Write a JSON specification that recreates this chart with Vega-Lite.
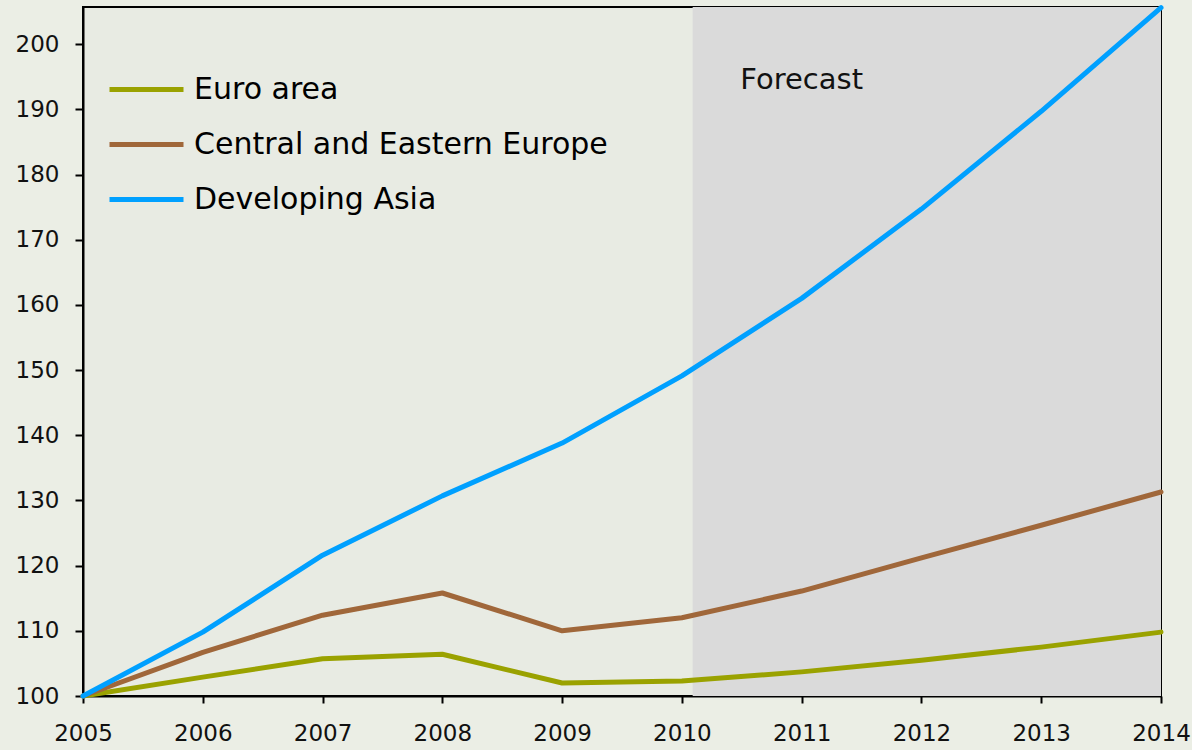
{
  "$schema": "https://vega.github.io/schema/vega-lite/v6.json",
  "width": 1078,
  "height": 689,
  "autosize": {"type": "none"},
  "padding": {"left": 83, "top": 7, "right": 31, "bottom": 54},
  "background": "#ebeee5",
  "config": {
    "font": "DejaVu Sans",
    "view": {"stroke": "#000000", "strokeWidth": 2, "fill": "#e8ebe3"},
    "axis": {
      "grid": false,
      "domainColor": "#000000",
      "domainWidth": 2,
      "tickColor": "#000000",
      "tickWidth": 2,
      "labelColor": "#111111",
      "labelFontSize": 23,
      "labelFont": "DejaVu Sans",
      "title": null
    }
  },
  "datasets": {
    "series": [
      {"year": 2005, "region": "Euro area", "value": 100},
      {"year": 2006, "region": "Euro area", "value": 102.9},
      {"year": 2007, "region": "Euro area", "value": 105.7},
      {"year": 2008, "region": "Euro area", "value": 106.4},
      {"year": 2009, "region": "Euro area", "value": 102.0},
      {"year": 2010, "region": "Euro area", "value": 102.3},
      {"year": 2011, "region": "Euro area", "value": 103.7},
      {"year": 2012, "region": "Euro area", "value": 105.5},
      {"year": 2013, "region": "Euro area", "value": 107.5},
      {"year": 2014, "region": "Euro area", "value": 109.8},
      {"year": 2005, "region": "Central and Eastern Europe", "value": 100},
      {"year": 2006, "region": "Central and Eastern Europe", "value": 106.7},
      {"year": 2007, "region": "Central and Eastern Europe", "value": 112.4},
      {"year": 2008, "region": "Central and Eastern Europe", "value": 115.8},
      {"year": 2009, "region": "Central and Eastern Europe", "value": 110.0},
      {"year": 2010, "region": "Central and Eastern Europe", "value": 112.0},
      {"year": 2011, "region": "Central and Eastern Europe", "value": 116.1},
      {"year": 2012, "region": "Central and Eastern Europe", "value": 121.2},
      {"year": 2013, "region": "Central and Eastern Europe", "value": 126.2},
      {"year": 2014, "region": "Central and Eastern Europe", "value": 131.3},
      {"year": 2005, "region": "Developing Asia", "value": 100},
      {"year": 2006, "region": "Developing Asia", "value": 109.8},
      {"year": 2007, "region": "Developing Asia", "value": 121.6},
      {"year": 2008, "region": "Developing Asia", "value": 130.7},
      {"year": 2009, "region": "Developing Asia", "value": 138.8},
      {"year": 2010, "region": "Developing Asia", "value": 149.1},
      {"year": 2011, "region": "Developing Asia", "value": 161.0},
      {"year": 2012, "region": "Developing Asia", "value": 174.7},
      {"year": 2013, "region": "Developing Asia", "value": 189.7},
      {"year": 2014, "region": "Developing Asia", "value": 205.6}
    ],
    "forecast": [
      {"start": 2010.09, "end": 2014, "label": "Forecast", "labelYear": 2011.0, "labelValue": 194.5}
    ]
  },
  "layer": [
    {
      "data": {"name": "forecast"},
      "mark": {"type": "rect", "color": "#dadada", "opacity": 1},
      "encoding": {
        "x": {"field": "start", "type": "quantitative", "scale": {"domain": [2005, 2014], "nice": false, "zero": false}},
        "x2": {"field": "end"}
      }
    },
    {
      "data": {"name": "series"},
      "mark": {"type": "line", "strokeWidth": 5, "strokeCap": "round", "strokeJoin": "round"},
      "encoding": {
        "x": {
          "field": "year", "type": "quantitative",
          "scale": {"domain": [2005, 2014], "nice": false, "zero": false},
          "axis": {"values": [2005, 2006, 2007, 2008, 2009, 2010, 2011, 2012, 2013, 2014], "format": "d", "tickSize": 7, "labelPadding": 19, "labelFlush": false, "labelOverlap": false}
        },
        "y": {
          "field": "value", "type": "quantitative",
          "scale": {"domain": [100, 205.7], "nice": false, "zero": false},
          "axis": {"values": [100, 110, 120, 130, 140, 150, 160, 170, 180, 190, 200], "tickSize": 8, "labelPadding": 16, "labelFlush": false}
        },
        "color": {
          "field": "region", "type": "nominal",
          "scale": {
            "domain": ["Euro area", "Central and Eastern Europe", "Developing Asia"],
            "range": ["#9aa200", "#a0673a", "#00a0ff"]
          },
          "legend": {
            "title": null,
            "orient": "none",
            "legendX": 24,
            "legendY": 43,
            "symbolType": "stroke",
            "symbolSize": 5476,
            "symbolStrokeWidth": 5,
            "labelFontSize": 30,
            "labelFont": "DejaVu Sans",
            "labelColor": "#000000",
            "labelOffset": 8,
            "rowPadding": -19,
            "labelLimit": 700
          }
        }
      }
    },
    {
      "data": {"name": "forecast"},
      "mark": {"type": "text", "fontSize": 29, "font": "DejaVu Sans", "color": "#111111", "align": "center", "baseline": "middle"},
      "encoding": {
        "x": {"field": "labelYear", "type": "quantitative"},
        "y": {"field": "labelValue", "type": "quantitative"},
        "text": {"field": "label"}
      }
    }
  ]
}
